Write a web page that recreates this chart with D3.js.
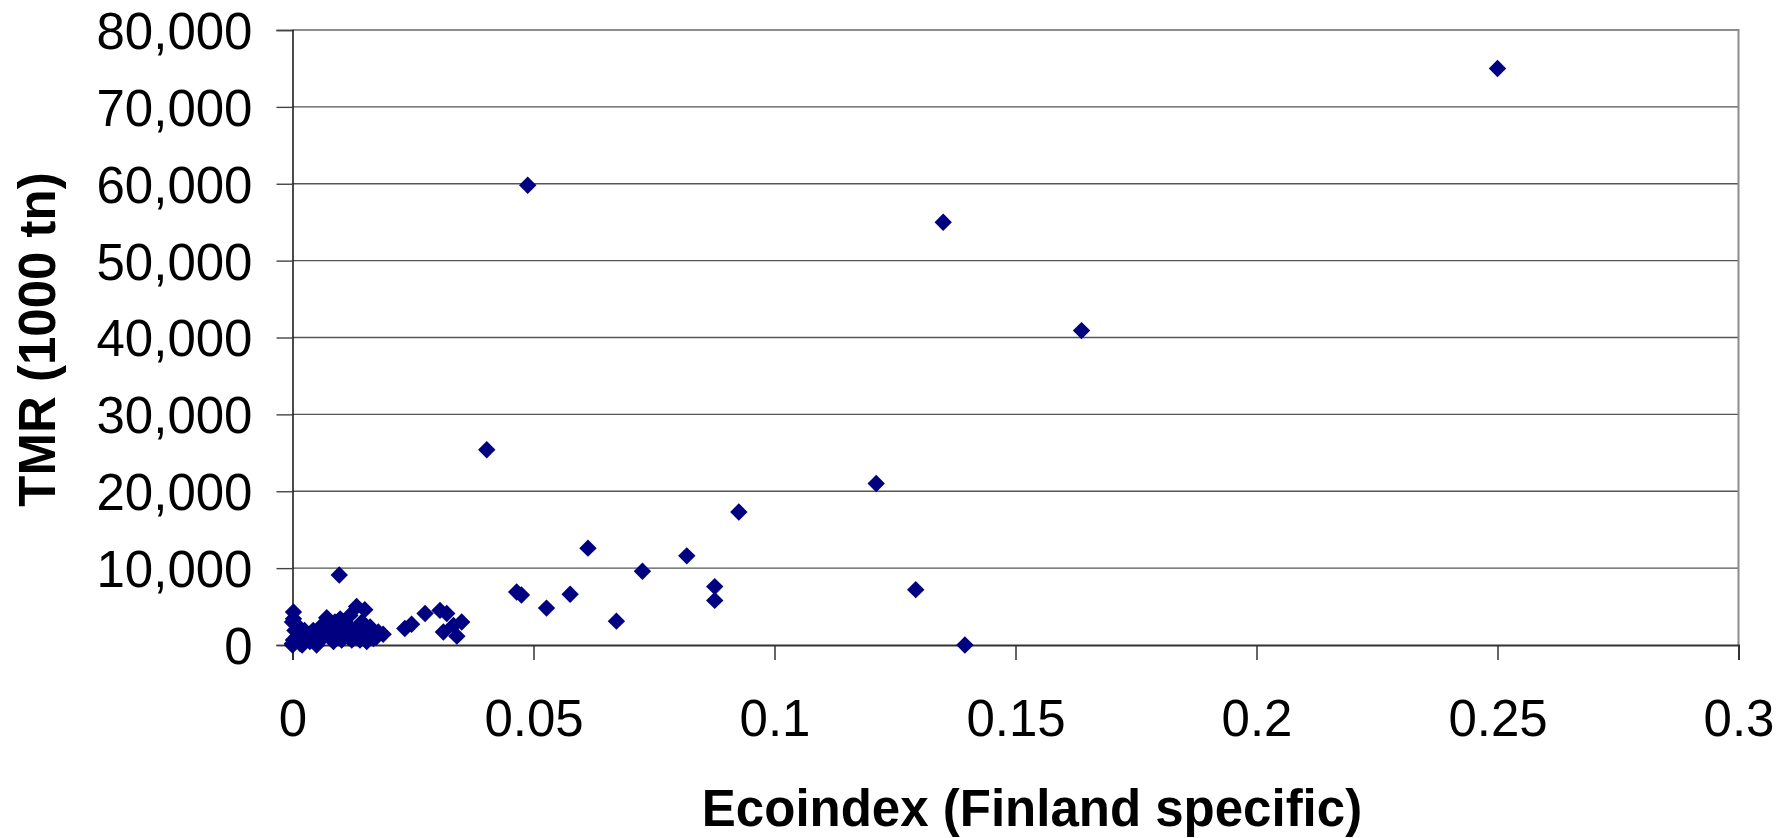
<!DOCTYPE html>
<html>
<head>
<meta charset="utf-8">
<script src="https://cdn.jsdelivr.net/npm/d3@7/dist/d3.min.js"></script>
<style>
  body { margin: 0; background: #fff; }
  text { font-family: "Liberation Sans", Arial, sans-serif; fill: #000; }
</style>
</head>
<body>
<svg id="chart" width="1791" height="838"></svg>
<script>
// ecoindex (Finland specific) vs TMR (1000 tn)
var ecoindex = [
  0.25, 0.0488, 0.135, 0.1637, 0.0403, 0.1211, 0.0926, 0.0613, 0.0818, 0.0726,
  0.0876, 0.0876, 0.1293, 0.0465, 0.0475, 0.0576, 0.0527, 0.0672, 0.1395, 0.0097,
  0.0133, 0.0150, 0.0002, 0.0000, 0.0005, 0.0002, 0.0000, 0.0016, 0.0029, 0.0043,
  0.0036, 0.0057, 0.0071, 0.0088, 0.0078, 0.0095, 0.0105, 0.0119, 0.0116, 0.0130,
  0.0144, 0.0140, 0.0161, 0.0178, 0.0188, 0.0168, 0.0233, 0.0247, 0.0275, 0.0306,
  0.0320, 0.0313, 0.0341, 0.0351, 0.0334, 0.0000, 0.0009, 0.0020, 0.0050, 0.0064,
  0.0043, 0.0085, 0.0102, 0.0123, 0.0154, 0.0112, 0.0099, 0.0061, 0.0016, 0.0002,
  0.0025, 0.0150, 0.0133, 0.0174
];
var tmr = [
  75000, 59800, 55000, 40900, 25400, 21000, 17300, 12600, 11600, 9600,
  7600, 5800, 7200, 6900, 6500, 6600, 4800, 3100, 0, 9100,
  5000, 4600, 4300, 3000, 1900, 650, 0, 200, 1050, 1900,
  450, 650, 3550, 3000, 1900, 1500, 2350, 3850, 1050, 1900,
  3000, 650, 2350, 1700, 1400, 850, 2150, 2700, 4100, 4500,
  4100, 1700, 1150, 3000, 2550, 200, 1050, 0, 0, 1050,
  650, 450, 650, 650, 450, 2800, 3400, 2550, 2150, 3400,
  1900, 1300, 1500, 1050
];
var xTicks = [0, 0.05, 0.1, 0.15, 0.2, 0.25, 0.3];
var yTicks = [0, 10000, 20000, 30000, 40000, 50000, 60000, 70000, 80000];
var xTitle = "Ecoindex (Finland specific)";
var yTitle = "TMR (1000 tn)";

var svg = d3.select("#chart");
var plotL = 292.5, plotR = 1738.5, plotT = 30, plotB = 645;

var x = d3.scaleLinear().domain([0, 0.3]).range([plotL, plotR]);
var y = d3.scaleLinear().domain([0, 80000]).range([plotB, plotT]);

svg.append("rect").attr("width", 1791).attr("height", 838).attr("fill", "#fff");

// gridlines
svg.append("g").selectAll("line")
  .data(yTicks.filter(function(d) { return d > 0 && d < 80000; }))
  .enter().append("line")
  .attr("x1", plotL).attr("x2", plotR)
  .attr("y1", function(d) { return y(d); })
  .attr("y2", function(d) { return y(d); })
  .attr("stroke", "#555").attr("stroke-width", 1.4);

// plot area border (top & right)
svg.append("path")
  .attr("d", "M" + plotL + "," + plotT + "H" + plotR + "V" + plotB)
  .attr("fill", "none").attr("stroke", "#8c8c8c").attr("stroke-width", 2);

// y axis
var yAxis = d3.axisLeft(y).tickValues(yTicks).tickSize(16).tickPadding(24)
  .tickFormat(d3.format(","));
var gy = svg.append("g").attr("transform", "translate(" + plotL + ",0)").call(yAxis);
gy.select(".domain").attr("stroke", "#111").attr("stroke-width", 1.5);
gy.selectAll(".tick line").attr("stroke", "#444").attr("stroke-width", 1.4);
gy.selectAll(".tick text").attr("font-size", 51).attr("fill", "#000")
  .attr("font-family", "Liberation Sans, Arial, sans-serif")
  .attr("dy", "0.36em");

// x axis
var xAxis = d3.axisBottom(x).tickValues(xTicks).tickSize(15).tickPadding(40)
  .tickFormat(function(d) { return d3.format("")(+d.toFixed(2)); });
var gx = svg.append("g").attr("transform", "translate(0," + plotB + ")").call(xAxis);
gx.select(".domain").attr("stroke", "#333").attr("stroke-width", 2);
gx.selectAll(".tick line").attr("stroke", "#333").attr("stroke-width", 1.5);
gx.selectAll(".tick text").attr("font-size", 51).attr("fill", "#000")
  .attr("font-family", "Liberation Sans, Arial, sans-serif")
  .attr("dy", "0.71em");

// points
var r = 8.7;
var diamond = "M0," + (-r) + "L" + r + ",0L0," + r + "L" + (-r) + ",0Z";
svg.append("g").selectAll("path")
  .data(d3.range(ecoindex.length))
  .enter().append("path")
  .attr("d", diamond)
  .attr("transform", function(i) { return "translate(" + x(ecoindex[i]) + "," + y(tmr[i]) + ")"; })
  .attr("fill", "#000080");

// titles
svg.append("text")
  .attr("x", 1032).attr("y", 826)
  .attr("text-anchor", "middle")
  .attr("font-size", 51).attr("font-weight", "bold")
  .text(xTitle);

svg.append("text")
  .attr("transform", "translate(55,339.5) rotate(-90)")
  .attr("text-anchor", "middle")
  .attr("font-size", 51).attr("font-weight", "bold")
  .text(yTitle);
</script>
</body>
</html>
